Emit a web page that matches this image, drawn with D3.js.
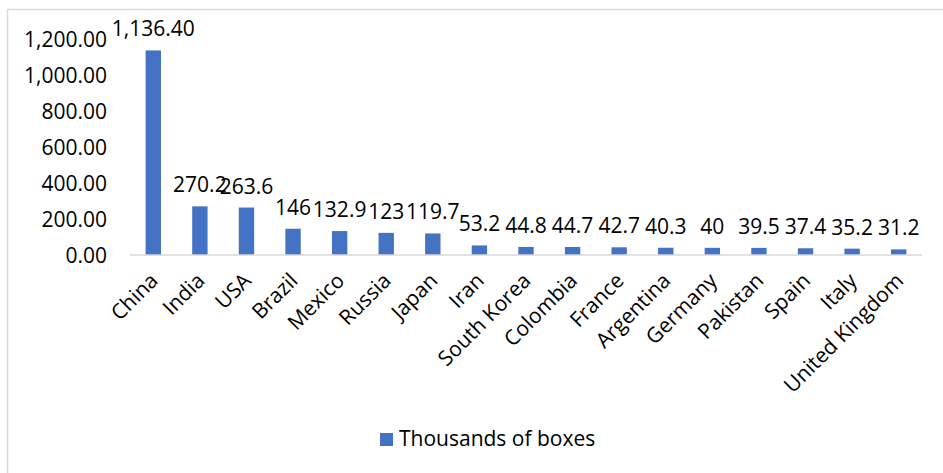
<!DOCTYPE html>
<html>
<head>
<meta charset="utf-8">
<script src="https://cdn.jsdelivr.net/npm/d3@7"></script>
<style>
  html, body { margin: 0; padding: 0; background: #fff; }
  svg { display: block; }
  text { font-family: "Open Sans", "Noto Sans", sans-serif; fill: #000; }
</style>
</head>
<body>
<svg id="chart" width="943" height="473"></svg>
<script>
// Banana box consumption by country
const countries = ["China", "India", "USA", "Brazil", "Mexico", "Russia", "Japan", "Iran",
  "South Korea", "Colombia", "France", "Argentina", "Germany", "Pakistan", "Spain", "Italy",
  "United Kingdom"];
const values = [1136.4, 270.2, 263.6, 146, 132.9, 123, 119.7, 53.2, 44.8, 44.7, 42.7, 40.3,
  40, 39.5, 37.4, 35.2, 31.2];
const valueLabels = ["1,136.40", "270.2", "263.6", "146", "132.9", "123", "119.7", "53.2",
  "44.8", "44.7", "42.7", "40.3", "40", "39.5", "37.4", "35.2", "31.2"];
const yTicks = [0, 200, 400, 600, 800, 1000, 1200];
const seriesName = "Thousands of boxes";

const svg = d3.select("#chart");
const fontSize = 21;
const barColor = "#4472C4";

// outer chart frame
svg.append("rect")
  .attr("x", 7.5).attr("y", 9.5)
  .attr("width", 960).attr("height", 480)
  .attr("fill", "none").attr("stroke", "#d9d9d9").attr("stroke-width", 1.5);

const plot = { left: 130, right: 922, top: 39, bottom: 255 };

const x = d3.scaleBand()
  .domain(countries)
  .range([plot.left, plot.right])
  .paddingInner(0.67).paddingOuter(0.335);

const y = d3.scaleLinear()
  .domain([0, 1200])
  .range([plot.bottom, plot.top]);

// y axis labels (no axis line, no gridlines)
const fmt = d3.format(",.2f");
const yAxis = d3.axisLeft(y).tickValues(yTicks).tickFormat(fmt).tickSize(0).tickPadding(0);
const gy = svg.append("g").attr("transform", "translate(107,0)").call(yAxis);
gy.select(".domain").remove();
gy.selectAll("text")
  .attr("font-size", fontSize)
  .attr("font-family", "Open Sans")
  .attr("fill", "#000")
  .attr("dy", "0.36em");

// bars
svg.append("g").selectAll("rect")
  .data(values)
  .join("rect")
  .attr("x", (d, i) => x(countries[i]))
  .attr("y", d => y(d))
  .attr("width", x.bandwidth())
  .attr("height", d => y(0) - y(d))
  .attr("fill", barColor);

// category axis
const xAxis = d3.axisBottom(x).tickSize(0).tickPadding(0);
const gx = svg.append("g").attr("transform", `translate(0,${plot.bottom})`).call(xAxis);
gx.select(".domain").attr("stroke", "#d9d9d9").attr("stroke-width", 1.5)
  .attr("d", `M${plot.left},0H${plot.right}`);
gx.selectAll(".tick text")
  .attr("font-size", fontSize)
  .attr("font-family", "Open Sans")
  .attr("fill", "#000")
  .attr("text-anchor", "end")
  .attr("y", 0).attr("dy", 0)
  .attr("transform", "translate(6,27) rotate(-45)");

// value labels
svg.append("g").selectAll("text")
  .data(values)
  .join("text")
  .attr("x", (d, i) => x(countries[i]) + x.bandwidth() / 2)
  .attr("y", d => y(d) - 14)
  .attr("text-anchor", "middle")
  .attr("font-size", fontSize)
  .text((d, i) => valueLabels[i]);

// legend
const legend = svg.append("g").attr("transform", "translate(380,433)");
legend.append("rect").attr("width", 13).attr("height", 13).attr("fill", barColor);
legend.append("text").attr("x", 19).attr("y", 13).attr("font-size", fontSize).text(seriesName);
</script>
</body>
</html>
